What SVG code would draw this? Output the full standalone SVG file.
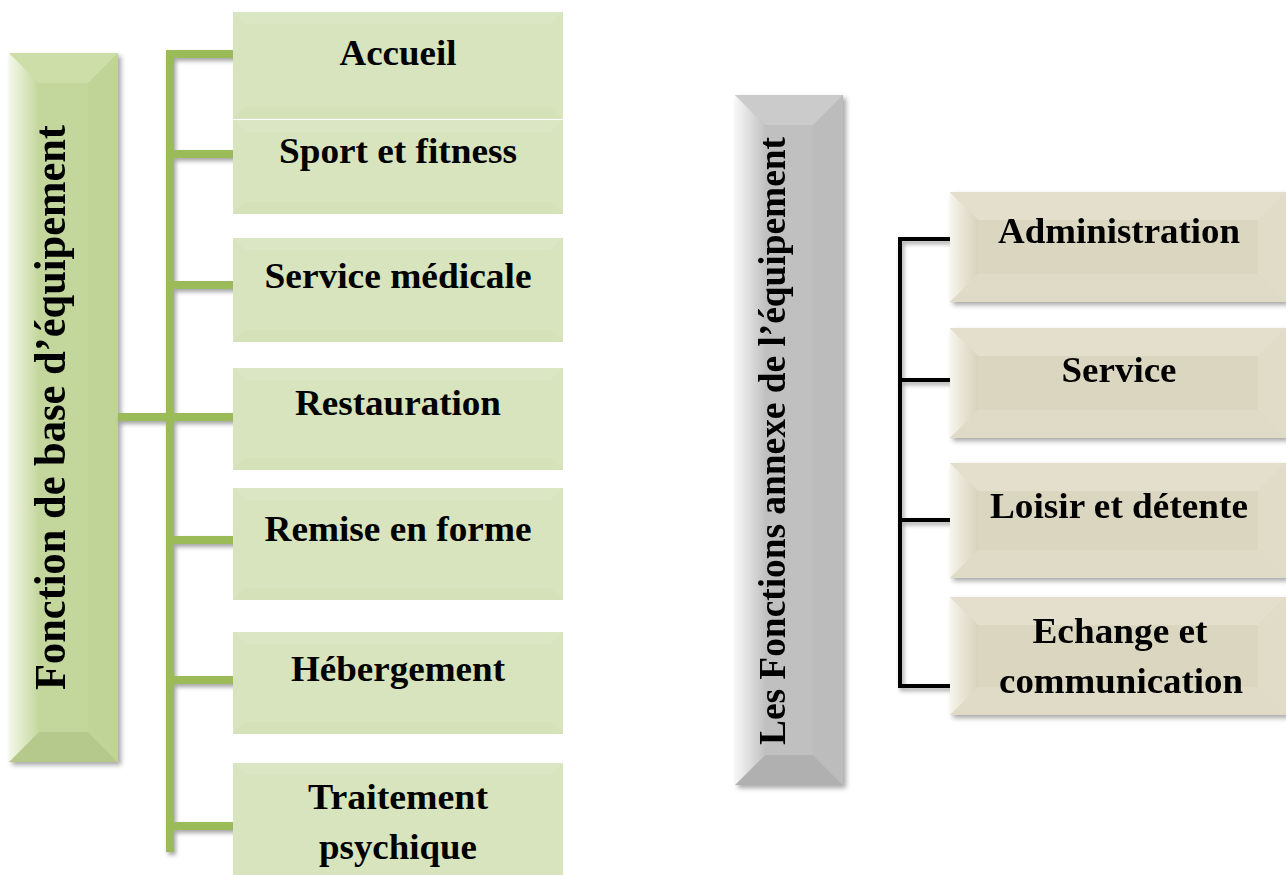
<svg xmlns="http://www.w3.org/2000/svg" width="1286" height="875" viewBox="0 0 1286 875">
<defs>
<filter id="sh" x="-10%" y="-10%" width="130%" height="130%">
<feDropShadow dx="3" dy="3" stdDeviation="2.5" flood-color="#000" flood-opacity="0.35"/>
</filter>
<filter id="shl" x="-10%" y="-10%" width="130%" height="130%">
<feDropShadow dx="2" dy="3" stdDeviation="2" flood-color="#000" flood-opacity="0.35"/>
</filter>
<linearGradient id="gL" x1="0" y1="0" x2="1" y2="0">
<stop offset="0" stop-color="#f4f8e8"/><stop offset="1" stop-color="#c4d79d"/>
</linearGradient>
<linearGradient id="grL" x1="0" y1="0" x2="1" y2="0">
<stop offset="0" stop-color="#f7f7f7"/><stop offset="1" stop-color="#c2c2c2"/>
</linearGradient>
<linearGradient id="bL" x1="0" y1="0" x2="1" y2="0">
<stop offset="0" stop-color="#f6f4ec"/><stop offset="1" stop-color="#d8d3bb"/>
</linearGradient>
</defs>
<style>
.t{font-family:"Liberation Serif","Times New Roman",serif;font-weight:bold;fill:#000;text-anchor:middle}
.h{font-size:35px}
.gc{fill:#d7e4bd}
.gt{fill:#dbe6c4}
.gb{fill:#d4e1b9}
.bc{fill:#dbd6bf}
.bt{fill:#e3dfcc}
.bb{fill:#dfdbc6}
.br{fill:#e0dcc8}
.gl{stroke:#9bbb59;stroke-width:8;fill:none}
.bl{stroke:#000;stroke-width:4;fill:none}
</style>

<g id="main-left" filter="url(#sh)">
<rect x="9" y="53" width="109" height="709" fill="#c3d69b"/>
<polygon points="9,53 118,53 88,83 39,83" fill="#cddea9"/>
<polygon points="9,762 118,762 88,732 39,732" fill="#b4c98b"/>
<polygon points="118,53 118,762 88,732 88,83" fill="#c0d497"/>
<polygon points="9,53 39,83 39,732 9,762" fill="url(#gL)"/>
<text class="t" font-size="45" textLength="565" lengthAdjust="spacingAndGlyphs" transform="translate(65,407.5) rotate(-90)">Fonction de base d’équipement</text>
</g>

<g id="connectors-left" filter="url(#shl)">
<line class="gl" x1="170" y1="50" x2="170" y2="852"/>
<line class="gl" x1="166" y1="54" x2="237" y2="54"/>
<line class="gl" x1="166" y1="154" x2="237" y2="154"/>
<line class="gl" x1="166" y1="285" x2="237" y2="285"/>
<line class="gl" x1="118" y1="417" x2="237" y2="417"/>
<line class="gl" x1="166" y1="540" x2="237" y2="540"/>
<line class="gl" x1="166" y1="680" x2="237" y2="680"/>
<line class="gl" x1="166" y1="826" x2="237" y2="826"/>
</g>

<g id="accueil">
<rect class="gc" x="233" y="12" width="330" height="107"/>
<polygon class="gt" points="233,12 563,12 551,24 245,24"/>
<polygon class="gb" points="233,119 563,119 551,107 245,107"/>
<text class="t h" x="398" y="65" textLength="117" lengthAdjust="spacingAndGlyphs">Accueil</text>
</g>
<g id="sport">
<rect class="gc" x="233" y="120" width="330" height="94"/>
<polygon class="gt" points="233,120 563,120 551,132 245,132"/>
<polygon class="gb" points="233,214 563,214 551,202 245,202"/>
<text class="t h" x="398" y="163" textLength="238" lengthAdjust="spacingAndGlyphs">Sport et fitness</text>
</g>
<g id="service-medicale">
<rect class="gc" x="233" y="238" width="330" height="104"/>
<polygon class="gt" points="233,238 563,238 551,250 245,250"/>
<polygon class="gb" points="233,342 563,342 551,330 245,330"/>
<text class="t h" x="398" y="288" textLength="267" lengthAdjust="spacingAndGlyphs">Service médicale</text>
</g>
<g id="restauration">
<rect class="gc" x="233" y="368" width="330" height="102"/>
<polygon class="gt" points="233,368 563,368 551,380 245,380"/>
<polygon class="gb" points="233,470 563,470 551,458 245,458"/>
<text class="t h" x="398" y="415" textLength="206" lengthAdjust="spacingAndGlyphs">Restauration</text>
</g>
<g id="remise">
<rect class="gc" x="233" y="488" width="330" height="112"/>
<polygon class="gt" points="233,488 563,488 551,500 245,500"/>
<polygon class="gb" points="233,600 563,600 551,588 245,588"/>
<text class="t h" x="398" y="541" textLength="267" lengthAdjust="spacingAndGlyphs">Remise en forme</text>
</g>
<g id="hebergement">
<rect class="gc" x="233" y="632" width="330" height="102"/>
<polygon class="gt" points="233,632 563,632 551,644 245,644"/>
<polygon class="gb" points="233,734 563,734 551,722 245,722"/>
<text class="t h" x="398" y="681" textLength="214" lengthAdjust="spacingAndGlyphs">Hébergement</text>
</g>
<g id="traitement">
<rect class="gc" x="233" y="763" width="330" height="112"/>
<polygon class="gt" points="233,763 563,763 551,775 245,775"/>
<text class="t h" x="398" y="809" textLength="180" lengthAdjust="spacingAndGlyphs">Traitement</text>
<text class="t h" x="398" y="859" textLength="158" lengthAdjust="spacingAndGlyphs">psychique</text>
</g>

<g id="main-right" filter="url(#sh)">
<rect x="735" y="95" width="108" height="690" fill="#c0c0c0"/>
<polygon points="735,95 843,95 813,125 765,125" fill="#cbcbcb"/>
<polygon points="735,785 843,785 813,755 765,755" fill="#b0b0b0"/>
<polygon points="843,95 843,785 813,755 813,125" fill="#bcbcbc"/>
<polygon points="735,95 765,125 765,755 735,785" fill="url(#grL)"/>
<text class="t" font-size="38" textLength="608" lengthAdjust="spacingAndGlyphs" transform="translate(785,441) rotate(-90)">Les Fonctions annexe de l’équipement</text>
</g>

<g id="connectors-right" filter="url(#shl)">
<polyline class="bl" points="950,239 900,239 900,686 950,686"/>
<line class="bl" x1="900" y1="380" x2="950" y2="380"/>
<line class="bl" x1="900" y1="520" x2="950" y2="520"/>
</g>

<g id="administration" filter="url(#sh)">
<rect class="bc" x="950" y="192" width="336" height="110"/>
<polygon class="bt" points="950,192 1286,192 1258,220 978,220"/>
<polygon class="bb" points="950,302 1286,302 1258,274 978,274"/>
<polygon class="br" points="1286,192 1286,302 1258,274 1258,220"/>
<polygon fill="url(#bL)" points="950,192 978,220 978,274 950,302"/>
<text class="t h" x="1119" y="243" textLength="242" lengthAdjust="spacingAndGlyphs">Administration</text>
</g>
<g id="service" filter="url(#sh)">
<rect class="bc" x="950" y="328" width="336" height="110"/>
<polygon class="bt" points="950,328 1286,328 1258,356 978,356"/>
<polygon class="bb" points="950,438 1286,438 1258,410 978,410"/>
<polygon class="br" points="1286,328 1286,438 1258,410 1258,356"/>
<polygon fill="url(#bL)" points="950,328 978,356 978,410 950,438"/>
<text class="t h" x="1119" y="382" textLength="115" lengthAdjust="spacingAndGlyphs">Service</text>
</g>
<g id="loisir" filter="url(#sh)">
<rect class="bc" x="950" y="463" width="336" height="115"/>
<polygon class="bt" points="950,463 1286,463 1258,491 978,491"/>
<polygon class="bb" points="950,578 1286,578 1258,550 978,550"/>
<polygon class="br" points="1286,463 1286,578 1258,550 1258,491"/>
<polygon fill="url(#bL)" points="950,463 978,491 978,550 950,578"/>
<text class="t h" x="1119" y="518" textLength="258" lengthAdjust="spacingAndGlyphs">Loisir et détente</text>
</g>
<g id="echange" filter="url(#sh)">
<rect class="bc" x="950" y="597" width="336" height="118"/>
<polygon class="bt" points="950,597 1286,597 1258,625 978,625"/>
<polygon class="bb" points="950,715 1286,715 1258,687 978,687"/>
<polygon class="br" points="1286,597 1286,715 1258,687 1258,625"/>
<polygon fill="url(#bL)" points="950,597 978,625 978,687 950,715"/>
<text class="t h" x="1120" y="643" textLength="175" lengthAdjust="spacingAndGlyphs">Echange et</text>
<text class="t h" x="1121" y="693" textLength="244" lengthAdjust="spacingAndGlyphs">communication</text>
</g>
</svg>
